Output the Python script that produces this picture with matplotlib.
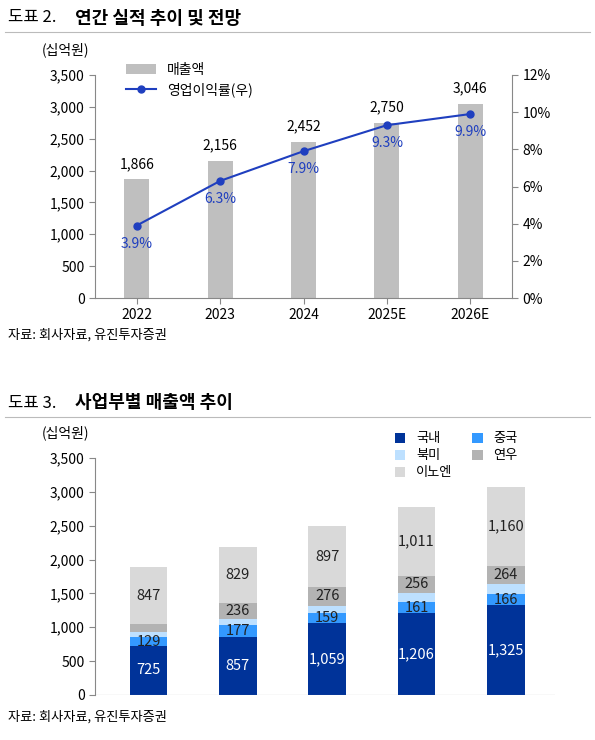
import matplotlib.pyplot as plt
import numpy as np

plt.rcParams['font.family'] = ['Noto Sans CJK KR', 'DejaVu Sans']

years = ['2022', '2023', '2024', '2025E', '2026E']
sales = [1866, 2156, 2452, 2750, 3046]
op_margin = [3.9, 6.3, 7.9, 9.3, 9.9]

domestic = [725, 857, 1059, 1206, 1325]
china = [129, 177, 159, 161, 166]
namerica = [80, 85, 100, 140, 155]
yeonwoo = [110, 236, 276, 256, 264]
inno = [847, 829, 897, 1011, 1160]

fig = plt.figure(figsize=(5.95, 7.4), dpi=100)
W, H = 595, 740


def box(l, t, r, b):
    return [l / W, 1 - b / H, (r - l) / W, (b - t) / H]


def header(y, num, title):
    fig.text(8 / W, 1 - y / H, num, fontsize=12, va='center')
    fig.text(75 / W, 1 - y / H, title, fontsize=13, fontweight='bold', va='center')
    fig.add_artist(plt.Line2D([5 / W, 590 / W], [1 - (y + 14) / H] * 2, color='#bbbbbb', lw=0.8))


def style(ax):
    for s in ['top', 'right']:
        ax.spines[s].set_visible(False)
    ax.spines['left'].set_color('#888888')
    ax.spines['bottom'].set_color('#888888')
    ax.tick_params(labelsize=10, color='#888888', length=4)


header(18, '도표 2.', '연간 실적 추이 및 전망')
x = np.arange(len(years))
ax = fig.add_axes(box(95, 75, 512, 298))
ax.bar(x, sales, width=0.3, color='#bfbfbf', label='매출액')
ax.set_ylim(0, 3500)
ax.set_yticks(range(0, 3501, 500))
ax.set_yticklabels([f'{v:,}' for v in range(0, 3501, 500)])
ax.set_xticks(x)
ax.set_xticklabels(years)
ax.set_xlim(-0.5, 4.5)
style(ax)
for i, v in enumerate(sales):
    ax.text(i, v + 130, f'{v:,}', ha='center', va='bottom', fontsize=10)
ax2 = ax.twinx()
ax2.plot(x, op_margin, color='#1f3fbf', marker='o', ms=5, lw=1.5, label='영업이익률(우)')
ax2.set_ylim(0, 12)
ax2.set_yticks(range(0, 13, 2))
ax2.set_yticklabels([f'{v}%' for v in range(0, 13, 2)])
for s in ['top', 'left', 'bottom']:
    ax2.spines[s].set_visible(False)
ax2.spines['right'].set_color('#888888')
ax2.tick_params(labelsize=10, color='#888888', length=4)
for i, v in enumerate(op_margin):
    ax2.text(i, v - 0.6, f'{v}%', ha='center', va='top', fontsize=10, color='#1f3fbf')
fig.text(42 / W, 1 - 50 / H, '(십억원)', fontsize=10, va='center')
h1, l1 = ax.get_legend_handles_labels()
h2, l2 = ax2.get_legend_handles_labels()
ax.legend(h1 + h2, l1 + l2, loc='upper left', bbox_to_anchor=(0.06, 1.08), frameon=False,
          fontsize=10, handlelength=2.2, labelspacing=0.4, borderaxespad=0)
fig.text(8 / W, 1 - 335 / H, '자료: 회사자료, 유진투자증권', fontsize=9.5, va='center')

header(403, '도표 3.', '사업부별 매출액 추이')
bx = fig.add_axes(box(95, 458, 555, 695))
colors = ['#003399', '#3399ff', '#bde0ff', '#b3b3b3', '#d9d9d9']
names = ['국내', '중국', '북미', '연우', '이노엔']
series = [domestic, china, namerica, yeonwoo, inno]
bottom = np.zeros(len(years))
bars = []
for vals, c, n in zip(series, colors, names):
    b = bx.bar(x, vals, bottom=bottom, width=0.42, color=c, label=n)
    bars.append(b)
    bottom += np.array(vals)
bottom = np.zeros(len(years))
for k, vals in enumerate(series):
    for i, v in enumerate(vals):
        show = k in (0, 1, 4) or (k == 3 and i > 0)
        if show:
            col = 'white' if k == 0 else '#222222'
            bx.text(i, bottom[i] + v / 2, f'{v:,}', ha='center', va='center', fontsize=10.5, color=col)
    bottom += np.array(vals)
bx.set_ylim(0, 3500)
bx.set_yticks(range(0, 3501, 500))
bx.set_yticklabels([f'{v:,}' for v in range(0, 3501, 500)])
bx.set_xticks([])
bx.set_xlim(-0.6, 4.55)
style(bx)
bx.spines['bottom'].set_visible(False)
bx.axhline(0, color='#888888', lw=0.8)
fig.text(42 / W, 1 - 433 / H, '(십억원)', fontsize=10, va='center')
order = [0, 2, 4, 1, 3]
bx.legend([bars[i] for i in order], [names[i] for i in order], ncol=2, loc='upper right',
          bbox_to_anchor=(0.93, 1.13), frameon=False, fontsize=9.5,
          handlelength=0.8, handleheight=0.8, columnspacing=1.5, labelspacing=0.3, borderaxespad=0)
fig.text(8 / W, 1 - 717 / H, '자료: 회사자료, 유진투자증권', fontsize=9.5, va='center')

fig.savefig('out.png')
